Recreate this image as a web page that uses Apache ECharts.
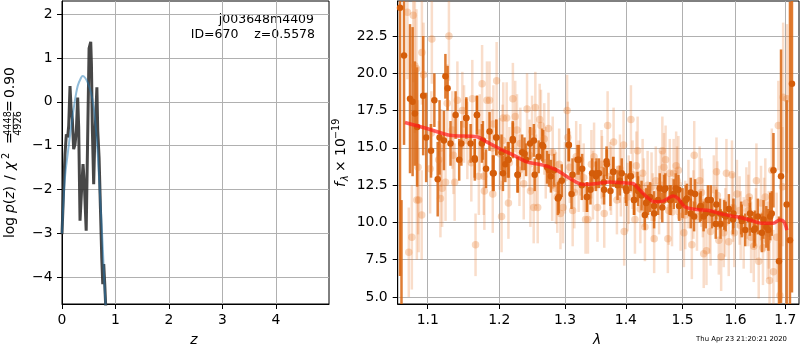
<!DOCTYPE html>
<html><head><meta charset="utf-8">
<script src="https://cdn.jsdelivr.net/npm/echarts@6.0.0/dist/echarts.min.js"></script>
<style>html,body{margin:0;padding:0;background:#fff}#c{width:800px;height:350px}</style>
</head><body><div id="c"></div>
<script>
// ---- left panel: log p(z) ----
const zDark = [0.0, 0.031, 0.056, 0.081, 0.106, 0.125, 0.150, 0.169, 0.193, 0.218, 0.243, 0.268, 0.293, 0.312, 0.337, 0.368, 0.393, 0.418, 0.452, 0.506, 0.537, 0.550, 0.568, 0.592, 0.612, 0.652, 0.668, 0.693, 0.718, 0.743, 0.762, 0.780, 0.799, 0.818, 0.830];
const pzDark = [-3.02, -1.95, -1.19, -0.74, -0.81, -0.55, 0.36, -0.13, -0.40, -1.08, -0.97, -0.66, 0.10, -0.59, -2.71, -1.95, -1.42, -1.88, -2.94, 1.22, 1.37, 0.86, -0.66, -1.88, -0.89, 0.33, -0.66, -1.27, -2.41, -3.55, -4.16, -3.70, -4.16, -4.69, -5.2];
const zBlue = [0.0, 0.019, 0.056, 0.106, 0.169, 0.231, 0.293, 0.356, 0.387, 0.431, 0.481, 0.543, 0.593, 0.637, 0.668, 0.699, 0.730, 0.762, 0.793, 0.818, 0.84];
const pzBlue = [-3.0, -2.48, -1.72, -1.19, -0.59, -0.05, 0.36, 0.55, 0.59, 0.55, 0.44, 0.21, -0.13, -0.66, -1.19, -1.88, -2.56, -3.32, -4.16, -4.69, -5.2];
const zTicks = [0, 1, 2, 3, 4];
const pzTicks = [-4, -3, -2, -1, 0, 1, 2];

// ---- right panel: spectrum ----
const darkWave = [1.0636, 1.0655, 1.0688, 1.0766, 1.0800, 1.0830, 1.0860, 1.0940, 1.0980, 1.1045, 1.1090, 1.1135, 1.1160, 1.1220, 1.1240, 1.1270, 1.1310, 1.1380, 1.1430, 1.1460, 1.1530, 1.1590, 1.1650, 1.1680, 1.1750, 1.1810, 1.1860, 1.1920, 1.1960, 1.2035, 1.2090, 1.2140, 1.2200, 1.2270, 1.2340, 1.2400, 1.2460, 1.2530, 1.2590, 1.2660, 1.2720, 1.2780, 1.2830, 1.2890, 1.2950, 1.3060, 1.3120, 1.3200, 1.3270, 1.3350, 1.3410, 1.3500, 1.3550, 1.3630, 1.3680, 1.3740, 1.3790, 1.3860, 1.3930, 1.4000, 1.4075, 1.4140, 1.4200, 1.4270, 1.4350, 1.4420, 1.4490, 1.4560, 1.4635, 1.4690, 1.4770, 1.4840, 1.4925, 1.5000, 1.5080, 1.5150, 1.5230, 1.5320, 1.5390, 1.5470, 1.5550, 1.5630, 1.5710, 1.5780, 1.5870, 1.5950, 1.6110, 1.6190, 1.6280, 1.6360, 1.6440, 1.6520, 1.6610, 1.6690, 1.6755, 1.6868, 1.6910, 1.7027, 1.7095, 1.7137,
  1.1528, 1.1680, 1.1648, 1.1765, 1.1909, 1.1957, 1.2055, 1.2128, 1.2202, 1.2276, 1.2376,
  1.2518, 1.2645, 1.2748, 1.2904, 1.3062, 1.3105, 1.3222, 1.3275, 1.3357, 1.3437,
  1.3509, 1.3634, 1.3675, 1.3785, 1.3898, 1.4011, 1.4085, 1.4141, 1.4211, 1.4327, 1.4384, 1.4489, 1.4590,
  1.4667, 1.4787, 1.4877, 1.4937, 1.5059, 1.5151, 1.5212, 1.5336, 1.5430, 1.5524, 1.5619, 1.5701, 1.5809,
  1.5958, 1.6121, 1.6285, 1.6383, 1.6552, 1.6652, 1.6720];
const darkFlux = [24.4, 3.0, 21.2, 18.3, 18.1, 17.3, 16.4, 18.5, 15.7, 14.8, 18.2, 12.9, 15.7, 15.5, 19.8, 19.0, 15.3, 17.2, 14.2, 15.3, 17.0, 15.3, 14.2, 17.2, 15.3, 13.6, 16.1, 13.3, 15.7, 14.7, 13.9, 14.2, 15.6, 13.2, 14.7, 14.2, 15.3, 13.2, 14.4, 15.1, 13.7, 13.1, 13.5, 11.6, 12.8, 15.2, 13.2, 14.2, 12.5, 11.7, 12.2, 13.1, 13.3, 12.7, 13.9, 12.1, 13.4, 12.5, 13.3, 12.3, 13.1, 11.5, 12.4, 11.8, 11.3, 11.7, 10.6, 11.5, 11.0, 12.3, 11.5, 11.9, 12.2, 11.3, 11.6, 10.6, 11.9, 11.0, 10.4, 11.5, 10.6, 11.2, 9.9, 10.5, 10.9, 10.2, 10.3, 9.5, 10.2, 9.5, 10.4, 9.3, 9.7, 10.4, 13.5, 7.4, 13.1, 11.2, 8.8, 19.3,
  17.0, 17.2, 14.3, 15.5, 13.3, 15.7, 13.3, 14.2, 15.5, 13.2, 14.6,
  15.5, 15.2, 13.5, 11.7, 15.2, 11.9, 14.2, 13.6, 11.7, 13.3,
  13.3, 12.2, 14.1, 13.4, 12.8, 12.1, 13.1, 11.5, 12.1, 10.5, 11.5, 11.1, 12.3,
  12.2, 11.5, 12.3, 11.1, 11.5, 12.0, 10.4, 11.1, 10.6, 11.5, 9.9, 10.6, 10.4,
  10.6, 10.1, 10.6, 9.6, 10.2, 9.5, 10.6];
const darkErr = [18, 8.5, 6, 5, 5, 3.5, 4, 4, 3, 1.8, 1.8, 2.5, 2.5, 2, 1.5, 1.5, 1.5, 1.6, 1.4, 1.5, 1.4, 1.3, 1.4, 1.3, 1.3, 1.3, 1.3, 1.2, 1.2, 1.2, 1.2, 1.2, 1.2, 1.2, 1.2, 1.1, 1.1, 1.1, 1.1, 1.1, 1.1, 1.1, 1.1, 1.1, 1.1, 1.1, 1.1, 1.0, 1.0, 1.0, 1.0, 1.0, 1.0, 1.0, 1.0, 1.0, 1.0, 1.0, 1.0, 1.0, 1.0, 1.0, 1.0, 1.0, 1.0, 1.0, 1.0, 1.0, 1.0, 1.0, 1.0, 1.0, 1.0, 1.0, 1.0, 1.0, 1.0, 1.0, 1.0, 1.0, 1.0, 1.0, 1.0, 1.0, 1.0, 1.0, 1.1, 1.1, 1.1, 1.2, 1.2, 1.3, 1.4, 1.6, 2.5, 3, 8.5, 7, 16, 14,
  1.3, 1.3, 1.3, 1.3, 1.2, 1.2, 1.2, 1.2, 1.2, 1.2, 1.1,
  1.1, 1.1, 1.1, 1.1, 1.1, 1.0, 1.0, 1.0, 1.0, 1.0,
  1.0, 1.0, 1.0, 1.0, 1.0, 1.0, 1.0, 1.0, 1.0, 1.0, 1.0, 1.0, 1.0,
  1.0, 1.0, 1.0, 1.0, 1.0, 1.0, 1.0, 1.0, 1.0, 1.0, 1.0, 1.0, 1.0,
  1.0, 1.1, 1.1, 1.2, 1.3, 1.4, 1.5];

const lightWave = [1.0732, 1.0750, 1.0790, 1.0809, 1.0830, 1.0851, 1.0856, 1.0872, 1.0880, 1.0920, 1.0923, 1.0945, 1.1033, 1.1050, 1.1056, 1.1149, 1.1172, 1.1180, 1.1195, 1.1242, 1.1265, 1.1288, 1.1335, 1.1350, 1.1367, 1.1405, 1.1474, 1.1498, 1.1544, 1.1600, 1.1614, 1.1660, 1.1707, 1.1720, 1.1753, 1.1777, 1.1786, 1.1823, 1.1860, 1.1900, 1.1907, 1.1916, 1.1963, 1.2010, 1.2035, 1.2050, 1.2060, 1.2110, 1.2136, 1.2150, 1.2202, 1.2237, 1.2263, 1.2300, 1.2313, 1.2364, 1.2414, 1.2450, 1.2465, 1.2490, 1.2515, 1.2540, 1.2550, 1.2576, 1.2606, 1.2626, 1.2677, 1.2700, 1.2742, 1.2800, 1.2808, 1.2859, 1.2879, 1.2909, 1.2929, 1.2970, 1.3000, 1.3034, 1.3045, 1.3078, 1.3123, 1.3150, 1.3179, 1.3218, 1.3246, 1.3300, 1.3330, 1.3369, 1.3425, 1.3450, 1.3469, 1.3525, 1.3592, 1.3600, 1.3637, 1.3693, 1.3737, 1.3750, 1.3793, 1.3849, 1.3900, 1.3915, 1.3961, 1.3972, 1.4029, 1.4050, 1.4087, 1.4116, 1.4156, 1.4180, 1.4202, 1.4249, 1.4289, 1.4310, 1.4329, 1.4376, 1.4445, 1.4465, 1.4491, 1.4520, 1.4578, 1.4610, 1.4636, 1.4665, 1.4694, 1.4734, 1.4750, 1.4769, 1.4809, 1.4838, 1.4884, 1.4900, 1.4925, 1.4965, 1.5025, 1.5050, 1.5108, 1.5171, 1.5200, 1.5215, 1.5266, 1.5316, 1.5350, 1.5375, 1.5392, 1.5443, 1.5500, 1.5520, 1.5582, 1.5633, 1.5650, 1.5677, 1.5722, 1.5772, 1.5800, 1.5823, 1.5867, 1.5930, 1.5950, 1.5975, 1.6026, 1.6079, 1.6100, 1.6159, 1.6212, 1.6250, 1.6270, 1.6305, 1.6358, 1.6400, 1.6411, 1.6457, 1.6503, 1.6543, 1.6565, 1.6590, 1.6636, 1.6660, 1.6675, 1.6722, 1.6755, 1.6821, 1.6854, 1.6887, 1.6940, 1.6954, 1.7033];
const lightFlux = [24.1, 8.0, 9.0, 23.9, 20.5, 20.3, 11.5, 13.7, 11.5, 10.5, 21.4, 19.9, 13.6, 16.0, 22.3, 14.2, 11.6, 15.0, 12.3, 12.7, 18.0, 22.5, 16.2, 14.5, 12.7, 18.2, 17.5, 16.6, 15.5, 14.0, 18.3, 8.5, 13.1, 16.0, 19.3, 13.1, 12.1, 18.2, 18.2, 15.0, 11.9, 16.6, 19.5, 14.6, 10.4, 15.5, 17.0, 17.0, 11.3, 14.0, 18.3, 17.1, 16.2, 13.5, 15.3, 12.6, 17.6, 14.5, 12.1, 16.1, 11.0, 17.7, 13.5, 11.0, 16.9, 16.5, 15.6, 14.0, 16.3, 12.5, 14.7, 12.3, 11.7, 13.9, 10.6, 11.0, 13.0, 17.5, 15.7, 13.7, 10.8, 12.0, 14.4, 13.1, 14.2, 13.0, 10.2, 10.2, 13.9, 12.5, 14.4, 11.0, 13.9, 13.5, 10.6, 16.5, 13.1, 12.8, 15.4, 11.5, 13.6, 12.7, 15.2, 9.4, 11.7, 12.2, 16.9, 13.2, 10.2, 13.8, 14.8, 10.9, 13.3, 12.0, 9.7, 12.5, 12.4, 11.0, 8.9, 12.8, 11.5, 12.5, 14.8, 13.7, 14.2, 8.9, 10.8, 13.3, 10.7, 13.3, 13.8, 12.8, 13.5, 10.4, 9.3, 10.5, 11.9, 8.5, 11.2, 14.5, 10.4, 12.8, 12.0, 11.3, 7.9, 8.1, 10.2, 9.4, 12.2, 13.4, 11.8, 8.8, 7.7, 9.3, 10.0, 13.3, 8.7, 13.2, 11.0, 9.3, 11.9, 10.8, 9.8, 9.3, 11.3, 10.8, 11.7, 9.0, 8.4, 9.9, 12.8, 7.4, 11.3, 8.3, 10.5, 11.7, 8.8, 9.5, 6.1, 13.5, 6.7, 9.0, 16.5, 5.1, 12.4, 18.4, 18.3];
const lightErr = [4.5, 3.0, 3.5, 4.5, 4.5, 4.0, 4.0, 4.5, 3.5, 3.0, 3.5, 3.5, 3.0, 2.8, 3.0, 2.6, 2.6, 2.6, 2.6, 2.6, 2.6, 3.0, 2.6, 2.6, 2.6, 2.6, 2.6, 2.6, 2.6, 2.6, 2.6, 2.1, 2.6, 2.6, 2.6, 2.6, 2.6, 2.6, 2.6, 2.6, 2.6, 2.6, 2.6, 2.4, 2.4, 2.4, 2.4, 2.4, 2.4, 2.4, 2.4, 2.4, 2.4, 2.4, 2.4, 2.4, 2.4, 2.4, 2.4, 2.4, 2.4, 2.4, 2.4, 2.4, 2.4, 2.4, 2.4, 2.4, 2.4, 2.4, 2.4, 2.4, 2.4, 2.4, 2.4, 2.4, 2.4, 2.4, 2.4, 2.4, 2.4, 2.4, 2.4, 2.4, 2.4, 2.3, 2.3, 2.3, 2.3, 2.3, 2.3, 2.3, 2.3, 2.3, 2.3, 2.3, 2.3, 2.3, 2.3, 2.3, 2.3, 2.3, 2.3, 2.3, 2.3, 2.3, 2.3, 2.3, 2.3, 2.3, 2.3, 2.3, 2.3, 2.3, 2.3, 2.3, 2.3, 2.3, 2.3, 2.3, 2.3, 2.3, 2.3, 2.3, 2.3, 2.3, 2.3, 2.3, 2.3, 2.3, 2.3, 2.3, 2.3, 2.3, 2.3, 2.3, 2.3, 2.3, 2.3, 2.3, 2.3, 2.3, 2.3, 2.3, 2.3, 2.3, 2.3, 2.3, 2.3, 2.3, 2.3, 2.3, 2.3, 2.3, 2.3, 2.3, 2.3, 2.3, 2.3, 2.3, 2.3, 2.3, 2.3, 2.4, 2.4, 2.4, 2.4, 2.4, 2.4, 2.4, 2.5, 2.5, 2.5, 2.5, 2.5, 2.6, 2.6, 2.6, 2.7, 2.8, 2.8, 3.0, 3.0, 3.5, 4.0, 5.0, 5.0, 6.0, 8.0, 8.0];

const modelWave = [1.070, 1.099, 1.130, 1.168, 1.182, 1.200, 1.221, 1.241, 1.266, 1.287, 1.308, 1.329, 1.351, 1.373, 1.395, 1.412, 1.424, 1.436, 1.450, 1.465, 1.483, 1.492, 1.504, 1.526, 1.551, 1.576, 1.602, 1.628, 1.654, 1.675, 1.688, 1.697, 1.703];
const modelFlux = [16.70, 16.30, 15.85, 15.74, 15.40, 14.96, 14.51, 14.06, 13.84, 13.51, 12.95, 12.55, 12.61, 12.72, 12.66, 12.61, 12.17, 11.72, 11.38, 11.43, 11.77, 11.61, 11.05, 10.87, 10.78, 10.54, 10.38, 10.16, 9.94, 9.94, 10.16, 10.05, 9.49];
const waveTicks = [1.1, 1.2, 1.3, 1.4, 1.5, 1.6, 1.7];
const fluxTicks = [5, 7.5, 10, 12.5, 15, 17.5, 20, 22.5];

const FONT = 'DejaVu Sans';
const F14 = '13.9px "DejaVu Sans"';
const F14I = 'italic 13.9px "DejaVu Sans"';
const DARK = '#d9650f';
const chart = echarts.init(document.getElementById('c'), null, {renderer: 'canvas'});

function axisBase(ticks, fmt, margin) {
  return {
    axisLine: {show: true, onZero: false, lineStyle: {color: '#000', width: 1}},
    axisTick: {show: true, inside: false, length: 5, customValues: ticks, lineStyle: {color: '#000', width: 1}},
    axisLabel: {show: true, customValues: ticks, color: '#000', fontSize: 13.9, fontFamily: FONT, margin: margin, formatter: fmt},
    splitLine: {show: true, lineStyle: {color: '#b0b0b0', width: 1}}
  };
}
const minus = v => String(v).replace('-', '\u2212');
const oneDec = v => Number(v).toFixed(1);

function errSeries(wave, flux, err, color, opacity, width) {
  return {
    type: 'custom', xAxisIndex: 1, yAxisIndex: 1, clip: true, silent: true,
    data: wave.map((w, i) => [w, flux[i] - err[i], flux[i] + err[i]]),
    encode: {x: 0, y: [1, 2]},
    renderItem: (params, api) => {
      const a = api.coord([api.value(0), api.value(1)]);
      const b = api.coord([api.value(0), api.value(2)]);
      return {type: 'line', shape: {x1: a[0], y1: a[1], x2: b[0], y2: b[1]},
        style: {stroke: color, lineWidth: width, opacity: opacity}};
    },
    z: 2
  };
}
function txt(x, y, s, font, align) {
  return {type: 'text', x: x, y: y, style: {text: s, font: font, fill: '#000', align: align || 'left', verticalAlign: 'middle'}};
}

const option = {
  animation: false,
  backgroundColor: '#fff',
  textStyle: {fontFamily: FONT},
  grid: [
    {left: 62, top: 1, width: 267, height: 303, show: true, borderColor: '#000', borderWidth: 1, backgroundColor: 'transparent'},
    {left: 397.7, top: 1, width: 401.3, height: 303, show: true, borderColor: '#000', borderWidth: 1, backgroundColor: 'transparent'}
  ],
  xAxis: [
    Object.assign({type: 'value', gridIndex: 0, min: 0, max: 4.99}, axisBase(zTicks, minus, 9)),
    Object.assign({type: 'log', logBase: 10, gridIndex: 1, min: 1.0606, max: 1.7284}, axisBase(waveTicks, oneDec, 9))
  ],
  yAxis: [
    Object.assign({type: 'value', gridIndex: 0, min: -4.61, max: 2.30}, axisBase(pzTicks, minus, 9.5)),
    Object.assign({type: 'value', gridIndex: 1, min: 4.53, max: 24.85}, axisBase(fluxTicks, oneDec, 10))
  ],
  series: [
    {type: 'line', xAxisIndex: 0, yAxisIndex: 0, data: zDark.map((z, i) => [z, pzDark[i]]),
      showSymbol: false, lineStyle: {color: '#333333', width: 3, opacity: 0.9}, z: 3},
    {type: 'line', xAxisIndex: 0, yAxisIndex: 0, data: zBlue.map((z, i) => [z, pzBlue[i]]),
      showSymbol: false, smooth: 0.3, lineStyle: {color: '#1f77b4', width: 2, opacity: 0.5}, z: 4},
    errSeries(lightWave, lightFlux, lightErr, '#e8792a', 0.25, 2.5),
    {type: 'scatter', xAxisIndex: 1, yAxisIndex: 1, data: lightWave.map((w, i) => [w, lightFlux[i]]),
      symbolSize: 7.5, itemStyle: {color: '#e8792a', opacity: 0.3}, z: 2, silent: true},
    errSeries(darkWave, darkFlux, darkErr, DARK, 0.85, 2.5),
    {type: 'scatter', xAxisIndex: 1, yAxisIndex: 1, data: darkWave.map((w, i) => [w, darkFlux[i]]),
      symbolSize: 6.5, itemStyle: {color: '#d45d0a', opacity: 1}, z: 3, silent: true},
    {type: 'line', xAxisIndex: 1, yAxisIndex: 1, data: modelWave.map((w, i) => [w, modelFlux[i]]),
      showSymbol: false, smooth: 0.3, lineStyle: {color: '#ff1a1a', width: 3.5, opacity: 0.7}, z: 5}
  ],
  graphic: [
    txt(314, 19.5, 'j003648m4409', '12.5px "DejaVu Sans"', 'right'),
    txt(315, 34.5, 'ID=670    z=0.5578', '12.5px "DejaVu Sans"', 'right'),
    txt(194, 340, 'z', F14I, 'center'),
    txt(597, 340, '\u03bb', F14I, 'center'),
    txt(787, 339, 'Thu Apr 23 21:20:21 2020', '6.9px "DejaVu Sans"', 'right'),
    {type: 'group', x: 341, y: 187, rotation: Math.PI / 2, children: [
      txt(0, 0, 'f', F14I),
      txt(6, 4, '\u03bb', 'italic 9.7px "DejaVu Sans"'),
      txt(15, 0, '\u00d7 10', F14),
      txt(48, -5, '\u221219', '9.7px "DejaVu Sans"')
    ]},
    {type: 'group', x: 10.7, y: 238, rotation: Math.PI / 2, children: [
      txt(0, 0, 'log', F14),
      txt(25, 0, 'p', F14I),
      txt(33.8, 0, '(', F14),
      txt(39.2, 0, 'z', F14I),
      txt(46.5, 0, ')', F14),
      txt(58, 0, '/', F14),
      txt(68, 0, '\u03c7', F14I),
      txt(79, -4.5, '2', '9.7px "DejaVu Sans"'),
      txt(94, 0, '=', F14),
      txt(114.5, -2.2, '4448', '9.7px "DejaVu Sans"', 'center'),
      {type: 'line', shape: {x1: 106, y1: 2.6, x2: 123, y2: 2.6}, style: {stroke: '#000', lineWidth: 0.8}},
      txt(114.5, 7.4, '4926', '9.7px "DejaVu Sans"', 'center'),
      txt(126, 0, '=', F14),
      txt(140, 0, '0.90', F14)
    ]}
  ]
};
chart.setOption(option);
</script></body></html>
